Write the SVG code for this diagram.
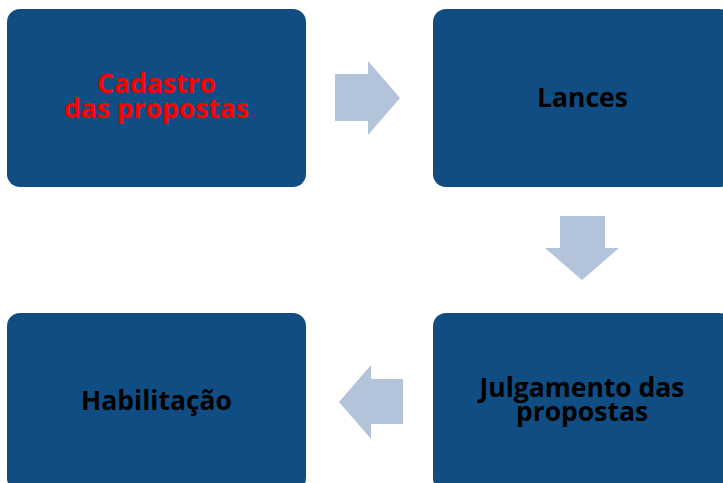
<svg xmlns="http://www.w3.org/2000/svg" width="723" height="483" viewBox="0 0 723 483">
<style>
.box{fill:#104D82;}
.arr{fill:#B3C3DA;}
.t{font-family:"Open Sans","Liberation Sans",sans-serif;font-weight:bold;font-size:26.5px;text-anchor:middle;fill:#000;}
.red{fill:#FF0000;}
</style>
<rect width="723" height="483" fill="#fff"/>
<g id="n1"><rect class="box" x="7" y="9" width="299" height="178" rx="13"/>
<text class="t red" x="156.5" y="93">Cadastro</text>
<text class="t red" x="156.5" y="118">das propostas</text></g>
<g id="n2"><rect class="box" x="433" y="9" width="299" height="178" rx="13"/>
<text class="t" x="582.5" y="107">Lances</text></g>
<g id="n3"><rect class="box" x="433" y="313" width="299" height="178" rx="13"/>
<text class="t" x="582" y="397">Julgamento das</text>
<text class="t" x="582" y="421">propostas</text></g>
<g id="n4"><rect class="box" x="7" y="313" width="299" height="178" rx="13"/>
<text class="t" x="156.5" y="410">Habilitação</text></g>
<g id="connectors">
<polygon class="arr" points="335,74 368,74 368,61 400,98 368,135 368,121 335,121"/>
<polygon class="arr" points="560,216 605,216 605,248 619,248 582,280 545,248 560,248"/>
<polygon class="arr" points="403,379 371,379 371,365 339,402 371,439 371,424 403,424"/>
</g>
</svg>
